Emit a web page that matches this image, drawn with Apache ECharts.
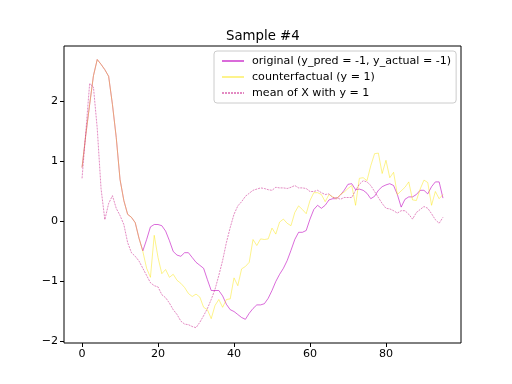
<!DOCTYPE html>
<html><head><meta charset="utf-8">
<script src="https://cdn.jsdelivr.net/npm/echarts@6/dist/echarts.min.js"></script>
<style>html,body{margin:0;padding:0;background:#fff}#c{width:512px;height:384px}</style>
</head><body><div id="c"></div>
<script>
const titleText = "Sample #4";
const seriesNames = ["original (y_pred = -1, y_actual = -1)", "counterfactual (y = 1)", "mean of X with y = 1"];
const xTicks = [0, 20, 40, 60, 80];
const yTicks = [-2, -1, 0, 1, 2];
const original = [0.9,1.45,1.95,2.43,2.70,2.62,2.53,2.42,1.95,1.4,0.7,0.35,0.12,0.07,-0.02,-0.28,-0.49,-0.3,-0.09,-0.05,
 -0.05,-0.07,-0.16,-0.32,-0.5,-0.56,-0.58,-0.52,-0.52,-0.6,-0.68,-0.73,-0.78,-0.97,-1.15,-1.15,-1.15,-1.24,-1.38,-1.47,
 -1.5,-1.55,-1.6,-1.63,-1.53,-1.45,-1.39,-1.39,-1.37,-1.28,-1.15,-1.0,-0.88,-0.78,-0.65,-0.48,-0.3,-0.18,-0.18,-0.15,
 0.04,0.2,0.27,0.22,0.27,0.36,0.38,0.38,0.44,0.52,0.62,0.63,0.53,0.54,0.52,0.47,0.38,0.42,0.52,0.58,
 0.61,0.63,0.6,0.45,0.24,0.37,0.41,0.41,0.45,0.52,0.52,0.46,0.58,0.66,0.66,0.39];
const counterfactual = [0.9,1.45,1.95,2.43,2.70,2.62,2.53,2.42,1.95,1.4,0.7,0.35,0.12,0.07,-0.02,-0.28,-0.5,-0.78,-0.93,-0.23,
 -0.6,-0.87,-0.8,-0.93,-0.88,-0.98,-1.03,-1.1,-1.2,-1.25,-1.21,-1.26,-1.43,-1.47,-1.62,-1.4,-1.3,-1.43,-1.3,-1.29,
 -0.94,-1.07,-0.79,-0.75,-0.68,-0.3,-0.4,-0.29,-0.3,-0.29,-0.11,-0.21,-0.01,0.04,-0.03,-0.07,0.15,0.26,0.2,0.13,
 0.35,0.48,0.48,0.45,0.33,0.45,0.41,0.38,0.45,0.49,0.55,0.6,0.27,0.72,0.73,0.68,0.93,1.13,1.14,0.8,
 1.02,0.73,0.82,0.45,0.51,0.57,0.66,0.36,0.35,0.54,0.69,0.65,0.27,0.5,0.38,0.45];
const meanX = [0.72,1.5,2.3,2.24,1.55,0.55,0.03,0.3,0.43,0.22,0.1,-0.05,-0.35,-0.52,-0.58,-0.66,-0.78,-0.9,-1.02,-1.07,
 -1.09,-1.22,-1.27,-1.36,-1.47,-1.55,-1.66,-1.71,-1.72,-1.75,-1.77,-1.68,-1.57,-1.45,-1.3,-1.13,-0.9,-0.65,-0.35,-0.1,
 0.12,0.26,0.33,0.42,0.47,0.52,0.54,0.56,0.55,0.53,0.52,0.57,0.56,0.56,0.55,0.57,0.6,0.56,0.56,0.55,
 0.5,0.5,0.52,0.48,0.45,0.46,0.4,0.4,0.37,0.4,0.4,0.4,0.52,0.62,0.68,0.66,0.6,0.5,0.4,0.3,
 0.22,0.21,0.18,0.14,0.18,0.18,0.12,0.04,0.15,0.2,0.25,0.22,0.13,0.03,-0.03,0.07];

const pair = arr => arr.map((v, i) => [i, v]);
const font = 'DejaVu Sans';
const fmt = v => String(v).replace('-', '\u2212');
const cOrig = 'rgba(191,0,191,0.58)';
const cCf = 'rgba(250,228,0,0.45)';
const cMean = 'rgba(199,21,133,0.5)';
const chart = echarts.init(document.getElementById('c'), null, {renderer: 'canvas'});
chart.setOption({
  animation: false,
  backgroundColor: '#fff',
  title: {text: titleText, left: 221, top: 25,
    textStyle: {fontFamily: font, fontSize: 13.3, fontWeight: 'normal', color: '#000'}},
  grid: {left: 64, right: 51, top: 46, bottom: 41, show: true, borderColor: '#000', borderWidth: 1, containLabel: false},
  legend: {orient: 'vertical', left: 214, top: 51,
    padding: [4, 5, 4, 7], itemWidth: 22, itemHeight: 10, itemGap: 4,
    backgroundColor: 'rgba(255,255,255,0.8)', borderColor: '#cccccc', borderWidth: 1, borderRadius: 3,
    itemStyle: {opacity: 0},
    textStyle: {fontFamily: font, fontSize: 11.1, lineHeight: 12, color: '#000', padding: [0, 0, 0, 3]},
    data: seriesNames},
  xAxis: {type: 'value', min: -4.75, max: 99.75,
    axisLine: {show: false, onZero: false}, splitLine: {show: false},
    axisTick: {show: true, length: 4, lineStyle: {color: '#000'}, customValues: xTicks},
    axisLabel: {show: true, fontFamily: font, fontSize: 11.1, color: '#000', margin: 6, customValues: xTicks, formatter: fmt}},
  yAxis: {type: 'value', min: -2.025, max: 2.925,
    axisLine: {show: false, onZero: false}, splitLine: {show: false},
    axisTick: {show: true, length: 4, lineStyle: {color: '#000'}, customValues: yTicks},
    axisLabel: {show: true, fontFamily: font, fontSize: 11.1, color: '#000', margin: 6, customValues: yTicks, formatter: fmt}},
  series: [
    {name: seriesNames[0], type: 'line', data: pair(original), symbol: 'none',
      lineStyle: {color: cOrig, width: 1}, itemStyle: {color: cOrig}, z: 2},
    {name: seriesNames[1], type: 'line', data: pair(counterfactual), symbol: 'none',
      lineStyle: {color: cCf, width: 1}, itemStyle: {color: cCf}, z: 3},
    {name: seriesNames[2], type: 'line', data: pair(meanX), symbol: 'none',
      lineStyle: {color: cMean, width: 1, type: [2, 1]}, itemStyle: {color: cMean}, z: 4}
  ]
});
</script></body></html>
